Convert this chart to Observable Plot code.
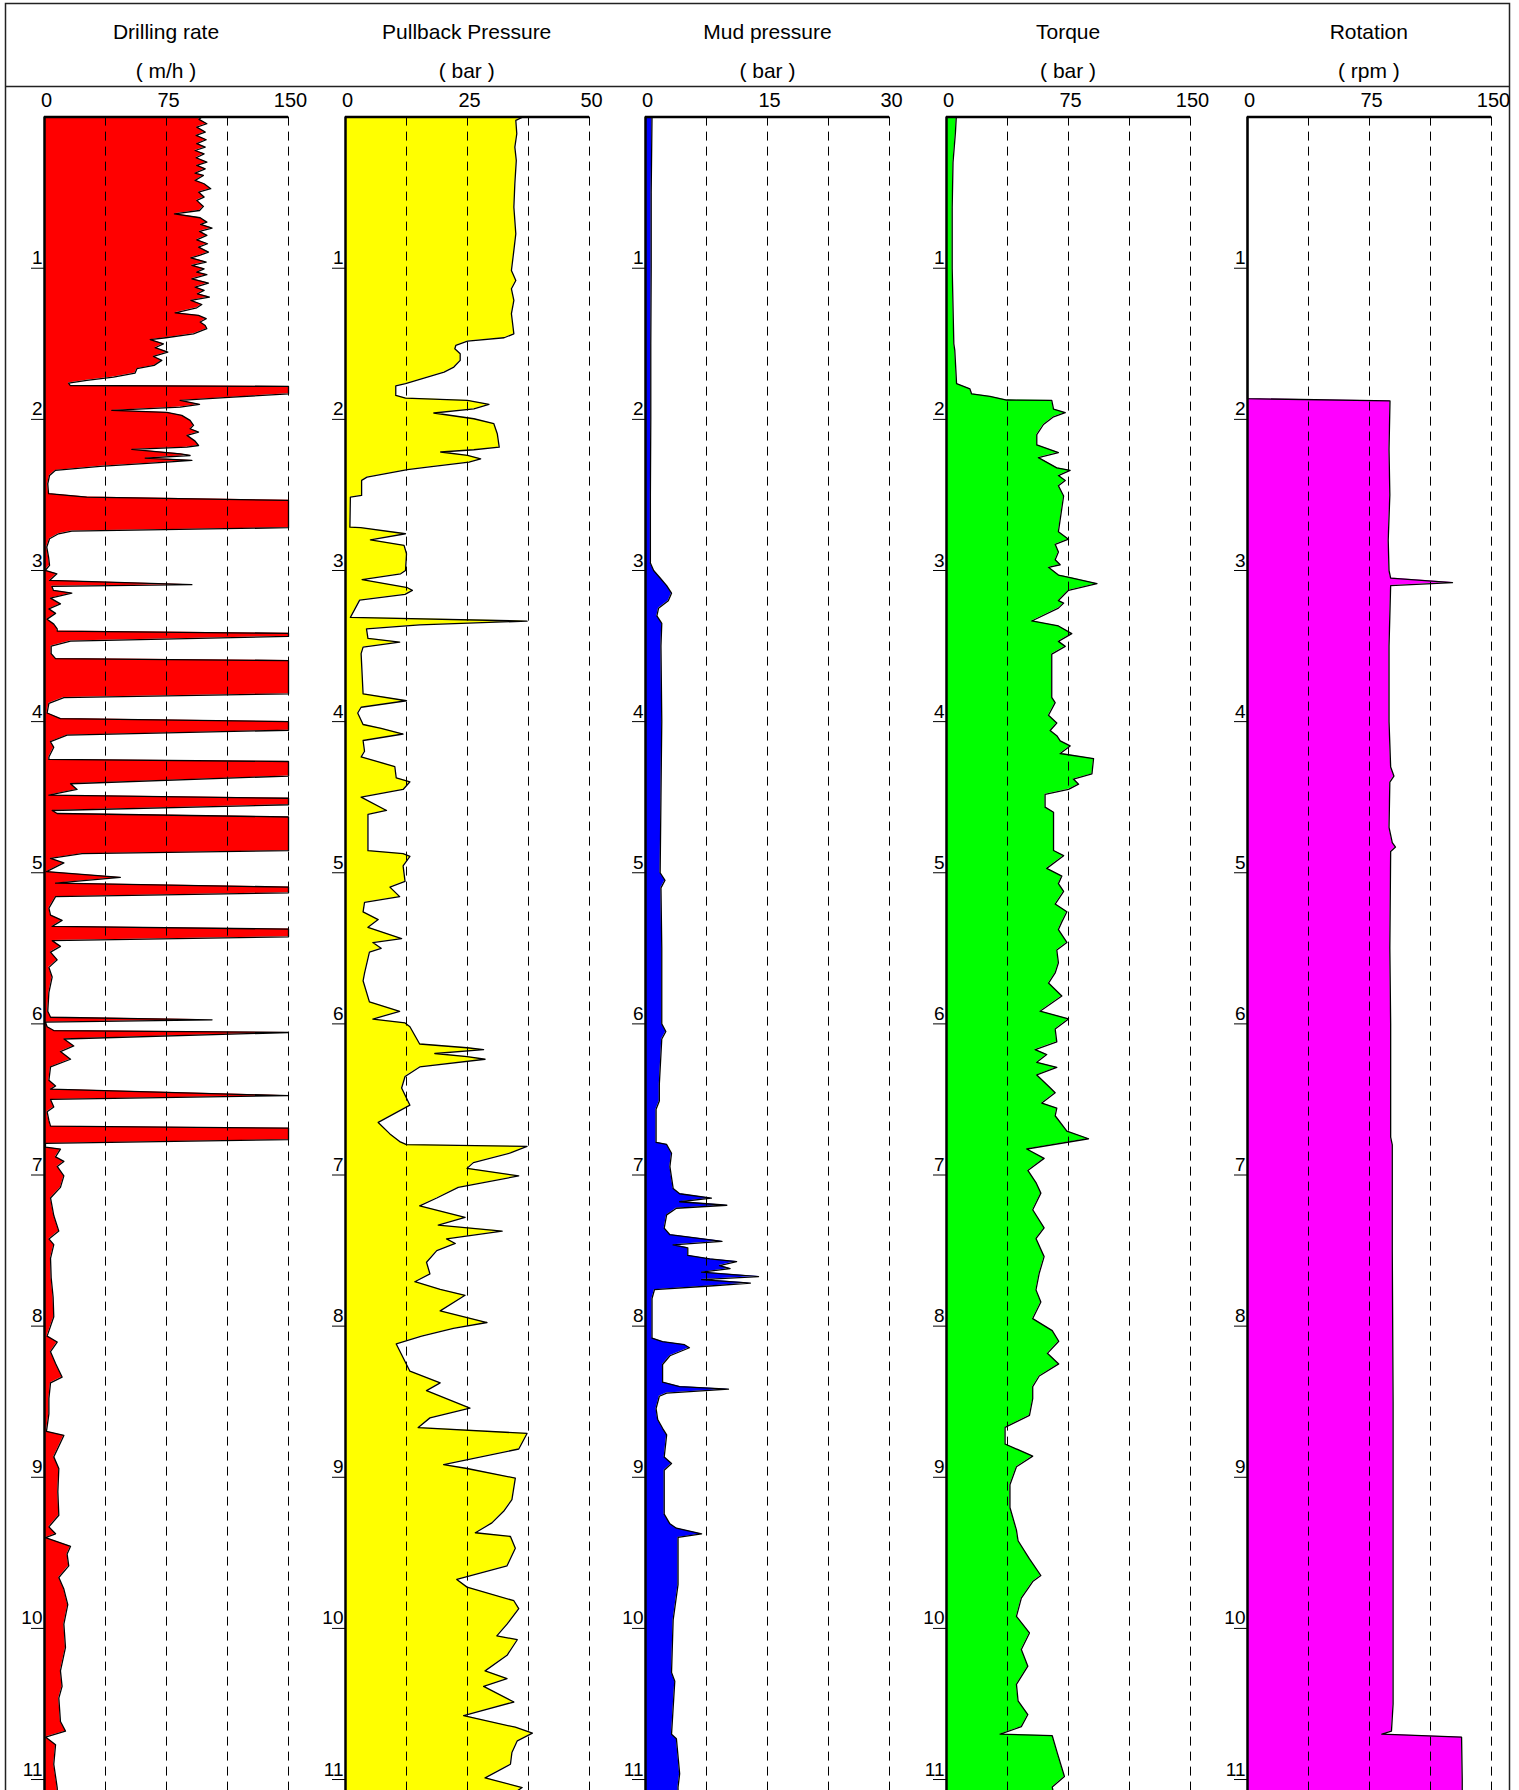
<!DOCTYPE html>
<html><head><meta charset="utf-8">
<script src="https://cdn.jsdelivr.net/npm/d3@7"></script>
<script src="https://cdn.jsdelivr.net/npm/@observablehq/plot@0.6"></script>
<style>
html,body{margin:0;padding:0;background:#fff;overflow:hidden;}
#chart{position:relative;width:1519px;height:1790px;font-family:"Liberation Sans",Arial,sans-serif;}
</style></head><body><div id="chart"></div><script>
// ---- data: [depth, value] ----
const drilling = [[0,96.7],[0.015,95],[0.044,99.8],[0.066,93.6],[0.099,98.8],[0.121,93.2],[0.15,99.4],[0.176,93.6],[0.198,98.8],[0.221,92.6],[0.243,98.1],[0.269,93.2],[0.298,99.8],[0.32,93.6],[0.342,98.8],[0.371,92.6],[0.386,97.7],[0.419,92.6],[0.441,98.1],[0.474,102.2],[0.496,94.7],[0.529,98.1],[0.551,93.6],[0.591,97.7],[0.618,95.3],[0.64,79.9],[0.666,95.7],[0.695,99.8],[0.71,96],[0.734,103],[0.756,95.3],[0.783,99.8],[0.812,93.6],[0.838,100.2],[0.86,94.7],[0.893,100.8],[0.915,95.3],[0.931,90],[0.959,99.4],[0.981,90.6],[1.004,98.1],[1.026,93.6],[1.043,99.8],[1.07,90.6],[1.098,100.8],[1.125,92.6],[1.147,98.1],[1.169,94],[1.191,101.4],[1.213,90],[1.24,96.7],[1.262,93.6],[1.295,80.3],[1.312,94.7],[1.334,99.4],[1.356,95.7],[1.379,98.8],[1.4,99.8],[1.434,91.6],[1.46,74.6],[1.473,65],[1.5,73.1],[1.526,68],[1.555,75.8],[1.584,67],[1.61,72.1],[1.643,67.4],[1.665,56.8],[1.694,55.7],[1.72,42.4],[1.742,26],[1.76,14.8],[1.776,15.8],[1.782,150],[1.831,150],[1.853,116],[1.875,83.4],[1.901,95.3],[1.919,83.4],[1.941,41.4],[1.954,75.2],[1.974,84.4],[2.007,89.5],[2.04,91.6],[2.062,89.5],[2.084,94.7],[2.106,87.6],[2.144,92.6],[2.173,94.7],[2.184,87.6],[2.199,53.7],[2.228,83.4],[2.239,89.5],[2.256,61.9],[2.272,90.6],[2.283,75.2],[2.311,34.2],[2.338,6.6],[2.371,3.1],[2.426,2],[2.492,2.5],[2.514,26],[2.536,150],[2.717,150],[2.739,16.8],[2.757,8.6],[2.79,3.1],[2.845,1.4],[2.911,2.5],[2.966,3.1],[3.0,0.4],[3.022,7.6],[3.066,3.1],[3.094,90.6],[3.105,4.5],[3.132,5.5],[3.15,16.8],[3.183,3.7],[3.221,9.8],[3.254,2.7],[3.284,6.8],[3.322,1.6],[3.355,5.7],[3.386,7.8],[3.401,7.8],[3.416,150],[3.436,150],[3.467,16],[3.5,4.1],[3.55,4.1],[3.583,6.8],[3.596,150],[3.816,150],[3.841,11.9],[3.879,2.7],[3.943,1.6],[3.98,9.8],[4.0,150],[4.057,150],[4.09,13.9],[4.133,3.7],[4.17,5.7],[4.234,2.7],[4.25,2.7],[4.264,150],[4.36,150],[4.411,16],[4.449,20],[4.487,2.7],[4.507,150],[4.55,150],[4.588,4.7],[4.608,7.8],[4.631,150],[4.854,150],[4.874,23.1],[4.905,3.7],[4.935,11.9],[4.993,1.2],[5.031,46.6],[5.069,6.8],[5.095,150],[5.133,150],[5.158,6.8],[5.234,2.7],[5.28,3.7],[5.315,10.8],[5.355,4.7],[5.373,150],[5.424,150],[5.449,4.7],[5.487,9.8],[5.525,3.7],[5.576,7.8],[5.626,2.7],[5.69,4.7],[5.791,2.7],[5.917,2],[5.956,3.7],[5.973,103],[5.989,0.6],[6.019,1.6],[6.044,5.7],[6.057,150],[6.1,12],[6.146,18],[6.183,9.8],[6.234,16],[6.285,3.7],[6.373,2.7],[6.411,6.8],[6.432,3.7],[6.475,150],[6.5,3.7],[6.55,5.7],[6.581,1.6],[6.639,2.7],[6.677,3.7],[6.69,150],[6.766,150],[6.791,0.6],[6.816,0.6],[6.829,9.8],[6.88,6.8],[6.91,11.9],[6.943,7.8],[7.006,11.9],[7.082,9.8],[7.152,3.7],[7.268,5.7],[7.371,8.8],[7.423,2.7],[7.461,5.7],[7.551,3.7],[7.68,4.1],[7.809,5.3],[7.938,5.7],[8.066,1.6],[8.105,7.8],[8.169,3.7],[8.247,6.8],[8.337,10.8],[8.375,3.7],[8.478,2.7],[8.581,2.7],[8.697,1.2],[8.723,11.9],[8.865,5.7],[8.942,8.8],[9.096,8.2],[9.251,8.8],[9.328,2.7],[9.374,6.8],[9.4,0.6],[9.457,16],[9.508,13.9],[9.586,14.9],[9.663,8.8],[9.74,11.9],[9.843,14.3],[9.972,11.9],[10.126,12.9],[10.281,9.8],[10.384,10.8],[10.461,8.8],[10.616,9.8],[10.68,12.9],[10.719,0.6],[10.77,6.8],[10.899,5.7],[11.053,7.8],[11.1,8]];

const pullback = [[0,36.3],[0.022,34.9],[0.11,35.1],[0.199,34.7],[0.287,35],[0.441,34.7],[0.596,34.5],[0.772,34.9],[0.882,34.5],[1.015,34],[1.081,34.9],[1.136,34],[1.213,34.5],[1.301,34],[1.434,34.5],[1.46,32.5],[1.482,25],[1.511,22.6],[1.533,22.4],[1.566,23.5],[1.61,23.5],[1.654,22.2],[1.687,20.2],[1.764,12.3],[1.778,10.3],[1.842,10.3],[1.859,12.3],[1.875,25],[1.901,29.4],[1.93,26.3],[1.958,18.1],[1.996,26.3],[2.029,30.4],[2.095,31.1],[2.184,31.5],[2.201,26.3],[2.216,19.5],[2.239,25],[2.261,27.7],[2.283,25.3],[2.316,16.8],[2.333,12.7],[2.382,4.4],[2.404,3.3],[2.503,3.3],[2.514,1.0],[2.713,0.9],[2.717,3.1],[2.757,12.3],[2.797,5.1],[2.834,12.0],[2.889,12.5],[3.0,12.3],[3.022,11.3],[3.061,3.4],[3.114,12.7],[3.132,13.7],[3.158,12.2],[3.196,2.9],[3.31,1.0],[3.335,37.2],[3.36,15.2],[3.386,4.3],[3.449,4.6],[3.474,11.1],[3.507,3.6],[3.55,3.2],[3.816,3.6],[3.862,12.5],[3.905,3.2],[3.943,2.5],[4.019,3.6],[4.044,7.3],[4.082,11.8],[4.125,3.6],[4.196,3.9],[4.234,3.2],[4.297,10.1],[4.373,10.4],[4.398,13.2],[4.449,11.8],[4.5,3.2],[4.588,8.4],[4.614,4.6],[4.854,4.6],[4.874,11.8],[4.892,13.2],[4.955,11.8],[5.057,12.2],[5.095,9.1],[5.158,11.1],[5.196,3.9],[5.259,3.6],[5.31,6.7],[5.361,4.6],[5.436,11.5],[5.462,5.6],[5.5,7.3],[5.525,4.9],[5.664,3.9],[5.715,3.6],[5.854,4.9],[5.917,11.1],[5.968,5.6],[5.994,12.2],[6.019,13.2],[6.133,15.2],[6.158,24.9],[6.171,28.3],[6.196,18.3],[6.216,24.9],[6.234,28.6],[6.285,15.2],[6.348,12.2],[6.424,11.5],[6.538,13.2],[6.652,6.7],[6.728,9.1],[6.779,11.1],[6.799,12.5],[6.811,37.2],[6.854,33.8],[6.918,26.2],[6.956,24.9],[7.006,35.5],[7.082,23.1],[7.152,18.7],[7.204,15.2],[7.281,24.5],[7.332,19.0],[7.371,32.1],[7.423,20.7],[7.453,22.5],[7.5,18.7],[7.577,16.6],[7.654,17.3],[7.706,14.2],[7.757,19.4],[7.796,24.5],[7.899,19.4],[7.976,29.0],[8.015,22.1],[8.066,15.6],[8.118,10.4],[8.298,13.2],[8.375,19.4],[8.427,16.6],[8.543,25.5],[8.607,17.3],[8.671,14.9],[8.71,37.2],[8.813,35.5],[8.916,20.1],[8.942,24.9],[9.006,34.8],[9.148,34.1],[9.225,32.4],[9.302,30.0],[9.367,26.6],[9.392,33.8],[9.47,34.8],[9.586,33.1],[9.676,22.8],[9.727,24.9],[9.817,34.5],[9.869,35.5],[9.972,33.1],[10.049,31.0],[10.075,35.2],[10.178,33.1],[10.281,28.6],[10.332,33.1],[10.384,28.3],[10.487,34.5],[10.577,24.2],[10.654,34.8],[10.693,38.3],[10.744,35.2],[10.821,34.1],[10.899,33.8],[10.989,28.6],[11.053,36.2],[11.1,34]];

const mud = [[0,0.8],[0.5,0.7],[1.0,0.7],[1.5,0.65],[2.0,0.65],[2.5,0.6],[2.95,0.6],[3.0,1.0],[3.05,1.8],[3.1,2.6],[3.15,3.2],[3.2,2.8],[3.25,1.6],[3.3,1.4],[3.35,2.0],[3.5,1.9],[4.0,2.0],[4.5,1.9],[5.0,1.8],[5.05,2.4],[5.1,1.9],[5.5,2.0],[6.0,2.0],[6.05,2.5],[6.1,2.0],[6.4,1.7],[6.51,1.7],[6.565,1.3],[6.784,1.3],[6.798,2.6],[6.856,3.2],[6.944,3.0],[7.089,3.4],[7.124,4.2],[7.153,8.1],[7.177,4.2],[7.2,10.0],[7.22,3.8],[7.264,2.6],[7.351,2.3],[7.395,3.0],[7.439,9.4],[7.462,3.4],[7.482,5.2],[7.532,5.2],[7.555,7.9],[7.573,11.2],[7.599,9.1],[7.619,10.4],[7.643,6.9],[7.672,13.9],[7.692,6.9],[7.715,12.9],[7.736,7.5],[7.759,1.1],[7.817,0.8],[8.079,0.8],[8.103,2.1],[8.123,4.8],[8.143,5.4],[8.196,3.0],[8.254,2.1],[8.371,2.1],[8.4,4.2],[8.417,10.2],[8.443,2.6],[8.464,1.7],[8.545,1.3],[8.618,1.5],[8.676,2.1],[8.72,2.6],[8.866,2.3],[8.909,3.2],[8.953,2.3],[9.244,2.3],[9.308,3.0],[9.337,3.8],[9.375,6.9],[9.398,4.0],[9.71,4.0],[9.943,3.4],[10.292,3.2],[10.35,3.6],[10.7,3.2],[10.73,3.8],[10.962,4.2],[11.05,4.0],[11.1,4.0]];

const torque = [[0,6],[0.1,5.5],[0.3,4],[0.6,3.5],[1.0,3.5],[1.5,4.5],[1.544,5.1],[1.764,6.2],[1.798,14.4],[1.831,15.4],[1.848,26.7],[1.872,37],[1.875,64.7],[1.933,65.8],[1.956,73],[1.983,65.8],[2.034,59.6],[2.101,55.5],[2.169,55.5],[2.22,68.8],[2.253,56.5],[2.321,67.8],[2.338,76],[2.372,68.8],[2.405,73],[2.439,68.8],[2.507,72],[2.743,68.8],[2.793,75],[2.827,66.8],[2.878,68.8],[2.929,66.8],[2.962,69.9],[2.979,62.7],[3.03,68.8],[3.047,76],[3.087,92.5],[3.131,75],[3.199,68.8],[3.216,72],[3.249,68.8],[3.334,52.4],[3.367,68.8],[3.418,77],[3.469,68.8],[3.502,73],[3.553,64.7],[3.84,64.7],[3.874,66.8],[3.958,62.7],[4.009,67.8],[4.059,63.7],[4.093,67.8],[4.127,69.9],[4.161,76],[4.211,69.9],[4.245,90.4],[4.346,89.4],[4.38,78],[4.414,81.2],[4.448,75],[4.481,60.6],[4.566,60.6],[4.6,65.8],[4.853,65.8],[4.887,72],[4.971,61.6],[5.022,70.9],[5.072,68.8],[5.123,72],[5.207,66.8],[5.258,74],[5.325,70.9],[5.376,68.8],[5.461,74],[5.511,67.8],[5.596,68.8],[5.663,66.8],[5.73,62.7],[5.815,70.9],[5.916,57.5],[5.967,75],[6.034,66.8],[6.119,67.8],[6.17,54.5],[6.203,61.6],[6.254,55.5],[6.288,67.8],[6.338,55.5],[6.423,63.7],[6.456,66.8],[6.524,58.6],[6.558,67.8],[6.608,66.8],[6.71,74],[6.76,87.3],[6.828,49.3],[6.89,60],[6.97,50],[7.05,55],[7.12,58],[7.23,53],[7.35,60],[7.42,55],[7.54,60],[7.65,57],[7.76,55],[7.84,58],[7.95,53],[8.03,65],[8.1,69],[8.18,62],[8.25,69],[8.33,57],[8.4,53],[8.48,53],[8.59,51],[8.67,36],[8.78,36],[8.86,53],[8.93,43],[9.05,39],[9.2,39],[9.35,43],[9.42,44],[9.54,51],[9.65,58],[9.69,53],[9.8,46],[9.92,43],[10.03,51],[10.14,46],[10.25,50],[10.37,43],[10.48,44],[10.57,50],[10.65,46],[10.70,33],[10.71,65],[10.82,68],[10.98,72.5],[11.05,65],[11.1,66]];

const rotation = [[0,0],[1.863,0],[1.878,87.6],[2.2,87],[2.5,87.5],[2.8,86.5],[3.0,87],[3.05,88],[3.08,126],[3.1,88],[3.5,87],[4.0,87],[4.3,88],[4.36,90],[4.4,87.5],[4.7,87],[4.8,89],[4.83,91],[4.86,88],[5.5,87.5],[6.0,88],[6.5,88],[6.75,88],[6.8,89],[7.5,89],[8.5,89.5],[9.5,89.5],[10.5,89.5],[10.68,88.5],[10.70,82.6],[10.72,131.6],[11.0,132],[11.1,132]];

const titles = ["Drilling rate","Pullback Pressure","Mud pressure","Torque","Rotation"];
const units = ["( m/h )","( bar )","( bar )","( bar )","( rpm )"];
const maxima = [150, 50, 30, 150, 150];
const colors = ["#ff0000","#ffff00","#0000ff","#00ff00","#ff00ff"];
const series = [drilling, pullback, mud, torque, rotation];
const depthTicks = [1,2,3,4,5,6,7,8,9,10,11];

// ---- layout ----
const FONT = '"Liberation Sans", Arial, sans-serif';
const W = 1519, Hpage = 1790;
const trackLeft0 = 44, trackPitch = 300.7, trackW = 244;
const headerBottom = 86;
const ML = 40, MR = 26, MT = 30.6;
const plotH = Hpage - headerBottom;
const depthMax = (plotH - MT) / 151.13;

const chart = document.getElementById("chart");
const svg = d3.select(chart).append("svg")
  .attr("width", W).attr("height", Hpage)
  .style("position","absolute").style("left","0px").style("top","0px")
  .style("font-family", FONT);
svg.append("path").attr("d", `M5.5,${Hpage+10}V3.5H1509.5V${Hpage+10}`)
  .attr("fill","none").attr("stroke","#222").attr("stroke-width",1.5);
svg.append("line").attr("x1",5.5).attr("x2",1509.5).attr("y1",86.5).attr("y2",86.5)
  .attr("stroke","#222").attr("stroke-width",1.5);

titles.forEach((t,i)=>{
  const cx = trackLeft0 + i*trackPitch + trackW/2;
  svg.append("text").attr("x",cx).attr("y",38.5).attr("text-anchor","middle")
    .attr("font-size",21).attr("fill","#000").text(t);
  svg.append("text").attr("x",cx).attr("y",77.5).attr("text-anchor","middle")
    .attr("font-size",21).attr("fill","#000").text(units[i]);
});

series.forEach((data,i)=>{
  const max = maxima[i];
  const left = trackLeft0 + i*trackPitch;
  const grid = [max/4, max/2, 3*max/4, max];
  const p = Plot.plot({
    width: ML + trackW + MR, height: plotH,
    marginLeft: ML, marginRight: MR, marginTop: MT, marginBottom: 0,
    style: {background: "transparent", fontFamily: FONT, fontSize: "20px", overflow: "visible", color: "#000"},
    x: {domain: [0, max], label: null},
    y: {domain: [0, depthMax], reverse: true, label: null},
    marks: [
      Plot.areaX(data, {x: d => d[1], y: d => d[0], fill: colors[i], curve: "linear"}),
      Plot.ruleX(grid, {stroke: "#000", strokeWidth: 1, strokeDasharray: "9,6"}),
      Plot.lineX(data, {x: d => d[1], y: d => d[0], stroke: "#000", strokeWidth: 1.3, curve: "linear"}),
      Plot.ruleX([0], {stroke: "#000", strokeWidth: 2.5}),
      Plot.ruleY([0], {stroke: "#000", strokeWidth: 2.5}),
      Plot.axisX([0, max/2, max], {anchor: "top", tickSize: 0, tickPadding: 10, dx: 2, fontSize: 20, tickFormat: d => String(d), label: null}),
      Plot.axisY(depthTicks, {anchor: "left", tickSize: 13, fill: "none", label: null}),
      Plot.axisY(depthTicks, {anchor: "left", tickSize: 0, tickPadding: 2, dy: -10, fontSize: 19, tickFormat: d => String(d), label: null})
    ]
  });
  p.style.position = "absolute";
  p.style.left = (left - ML) + "px";
  p.style.top = headerBottom + "px";
  p.style.maxWidth = "none";
  chart.appendChild(p);
});
</script></body></html>
